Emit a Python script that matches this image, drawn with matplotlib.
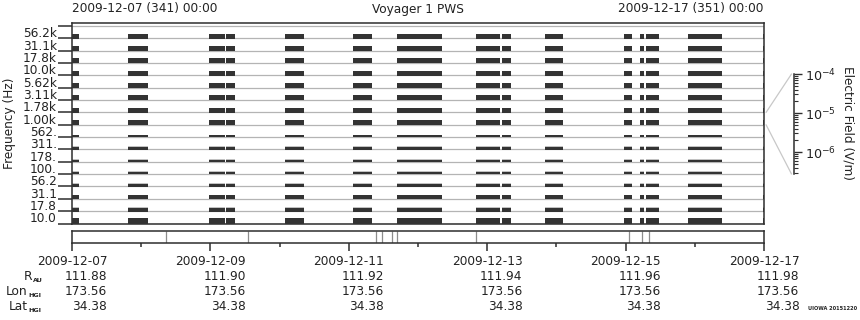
import numpy as np
import matplotlib.pyplot as plt
from matplotlib.patches import ConnectionPatch
from matplotlib.transforms import blended_transform_factory

# channel labels, top to bottom
chan_labels = ["56.2k", "31.1k", "17.8k", "10.0k", "5.62k", "3.11k", "1.78k", "1.00k",
               "562.", "311.", "178.", "100.", "56.2", "31.1", "17.8", "10.0"]
# bar heights per channel (fraction of channel band), dark part and grey noise part
bar_h = [0.38, 0.38, 0.38, 0.38, 0.38, 0.38, 0.38, 0.38,
         0.18, 0.20, 0.16, 0.18, 0.22, 0.32, 0.26, 0.43]
noise_h = [0.38, 0.38, 0.38, 0.38, 0.38, 0.38, 0.38, 0.38,
           0.18, 0.28, 0.20, 0.26, 0.30, 0.34, 0.36, 0.48]

# data coverage intervals, days since 2009-12-07 00:00
seg_start = [0.00, 0.81, 1.98, 2.23, 3.08, 4.06, 4.70, 5.84, 6.21, 6.84, 7.98, 8.21, 8.29, 8.90, 9.98]
seg_end   = [0.10, 1.10, 2.21, 2.36, 3.35, 4.34, 5.35, 6.18, 6.34, 7.10, 8.09, 8.27, 8.48, 9.39, 10.0]

# mode change markers (days)
events = [1.36, 2.55, 4.39, 4.48, 4.62, 4.70, 5.84, 8.05, 8.24, 8.34]

tick_days = [0, 2, 4, 6, 8, 10]
tick_dates = ["2009-12-07", "2009-12-09", "2009-12-11", "2009-12-13", "2009-12-15", "2009-12-17"]
r_au = ["111.88", "111.90", "111.92", "111.94", "111.96", "111.98"]
lon_hgi = ["173.56"] * 6
lat_hgi = ["34.38"] * 6

dark = "#333333"
frame = "#2e2e2e"
grey = "#b4b4b4"
txt = "#222222"
W, H = 860, 320

fig = plt.figure(figsize=(8.6, 3.2), dpi=100)
fs = 8.7

def box(l, t, r, b):
    return [l / W, 1 - b / H, (r - l) / W, (b - t) / H]

# main spectrum panel
ax = fig.add_axes(box(72, 23.3, 764, 223.5))
ax.set_xlim(0, 10)
ax.set_ylim(0, 16.22)
nch = len(chan_labels)
for k in range(nch + 1):
    ax.axhline(k, color=grey, lw=0.9, zorder=1)
segs = [(s, e - s) for s, e in zip(seg_start, seg_end)]
for i in range(nch):
    base = nch - 1 - i
    ax.broken_barh(segs, (base - 0.03, noise_h[i] + 0.03), facecolor="#c2c2c2", zorder=2)
    ax.broken_barh(segs, (base - 0.03, bar_h[i] + 0.03), facecolor=dark, zorder=3)

ax.set_yticks(np.arange(nch + 1))
ax.set_yticklabels([])
ax.set_yticks(np.arange(nch) + 0.5, minor=True)
ax.set_yticklabels(chan_labels[::-1], minor=True, fontsize=fs, color=txt)
ax.tick_params(axis="y", which="major", length=10, width=1.1, color=frame)
ax.tick_params(axis="y", which="minor", length=0, pad=11)
ax.set_xticks([])
for sp in ax.spines.values():
    sp.set_color(frame)
    sp.set_linewidth(1.1)

fig.text(10 / W, 1 - 123 / H, "Frequency (Hz)", rotation=90, ha="center", va="center",
         fontsize=fs, color=txt)
fig.text(418 / W, 1 - 10 / H, "Voyager 1 PWS", ha="center", va="center", fontsize=fs, color=txt)
fig.text(72 / W, 1 - 8.5 / H, "2009-12-07 (341) 00:00", ha="left", va="center", fontsize=fs, color=txt)
fig.text(763 / W, 1 - 8.5 / H, "2009-12-17 (351) 00:00", ha="right", va="center", fontsize=fs, color=txt)

# event strip with time axis
ax2 = fig.add_axes(box(72, 231, 764, 242.7))
ax2.set_xlim(0, 10)
ax2.set_ylim(0, 1)
ax2.vlines(events, 0, 1, color="#8c8c8c", lw=0.9)
ax2.set_yticks([])
ax2.set_xticks(tick_days)
ax2.set_xticks(np.arange(1, 10, 2), minor=True)
ax2.set_xticklabels([])
ax2.tick_params(axis="x", which="major", length=6, width=1.1, color=frame)
ax2.tick_params(axis="x", which="minor", length=3, width=1.1, color=frame)
for sp in ax2.spines.values():
    sp.set_color(frame)
    sp.set_linewidth(1.1)

# date labels centred on ticks, ephemeris values right-aligned under each date
tr_bot = blended_transform_factory(ax2.transData, fig.transFigure)
renderer = fig.canvas.get_renderer()
inv = ax2.transData.inverted()
for d, lab, r, lo, la in zip(tick_days, tick_dates, r_au, lon_hgi, lat_hgi):
    t = ax2.text(d, 1 - 261.7 / H, lab, transform=tr_bot, ha="center", va="center",
                 fontsize=fs, color=txt)
    ext = t.get_window_extent(renderer)
    xr = inv.transform((ext.x1, ext.y0))[0]
    for val, yy in zip([r, lo, la], [276.5, 291.2, 306]):
        ax2.text(xr, 1 - yy / H, val, transform=tr_bot, ha="right", va="center",
                 fontsize=fs, color=txt, clip_on=False)

row_y = [276.5, 291.2, 306]
row_main = ["R", "Lon", "Lat"]
row_sub = ["AU", "HGI", "HGI"]
row_x = [32, 27.5, 27.5]
for yy, m, s, xx in zip(row_y, row_main, row_sub, row_x):
    fig.text(xx / W, 1 - yy / H, m, ha="right", va="center", fontsize=fs, color=txt)
    fig.text((xx + 1) / W, 1 - (yy + 4) / H, s, ha="left", va="center", fontsize=4.6,
             fontweight="bold", color=txt)

# electric field scale
sax = fig.add_axes(box(794, 74, 794.01, 174))
sax.set_yscale("log")
sax.set_ylim(10 ** -6.56, 1e-4)
sax.set_xticks([])
for name in ["left", "top", "bottom"]:
    sax.spines[name].set_visible(False)
sax.spines["right"].set_color(frame)
sax.spines["right"].set_linewidth(1.1)
sax.yaxis.tick_right()
sax.set_yticks([1e-4, 1e-5, 1e-6])
sax.tick_params(axis="y", which="major", length=6, width=1.0, color=frame, labelsize=fs + 0.5,
                pad=2, labelcolor=txt)
sax.tick_params(axis="y", which="minor", length=3, width=0.8, color=frame)
fig.text(848 / W, 1 - 123 / H, "Electric Field (V/m)", rotation=270, ha="center", va="center",
         fontsize=fs, color=txt)

tr_main = blended_transform_factory(ax.transAxes, ax.transData)
tr_scale = blended_transform_factory(fig.transFigure, sax.transData)
for ya, yb in [(9, 1e-4), (8, 10 ** -6.56)]:
    con = ConnectionPatch(xyA=(1.003, ya), coordsA=tr_main, xyB=(791.5 / W, yb), coordsB=tr_scale,
                          color="#c8c8c8", lw=0.9)
    fig.add_artist(con)

fig.text(857 / W, 1 - 309 / H, "UIOWA 20151220", ha="right", va="center", fontsize=3.6,
         fontweight="bold", color=txt)

plt.savefig("out.png", dpi=100)
